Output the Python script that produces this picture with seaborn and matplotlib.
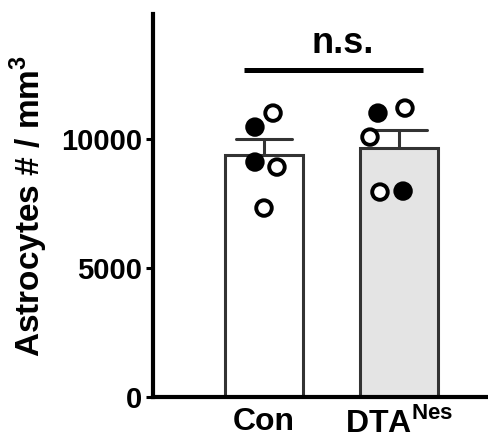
import numpy as np
import pandas as pd
import matplotlib
matplotlib.use("Agg")
import matplotlib.pyplot as plt
import seaborn as sns

# ===== Data =====
groups = ["Con", "DTA"]
con_vals = [10465, 11008, 9109, 8915, 7326]
dta_vals = [11008, 11202, 10078, 7946, 7984]
con_fill = ["filled", "open", "filled", "open", "open"]
dta_fill = ["filled", "open", "open", "open", "filled"]
# horizontal scatter of the dots around each bar centre
con_jitter = [-0.067, 0.067, -0.067, 0.096, 0.0]
dta_jitter = [-0.156, 0.044, -0.215, -0.141, 0.030]
tick_labels = ["Con", "DTA$^{\\bf Nes}$"]

df = pd.DataFrame({
    "group": ["Con"] * len(con_vals) + ["DTA"] * len(dta_vals),
    "value": con_vals + dta_vals,
    "fill": con_fill + dta_fill,
})
df["xpos"] = df["group"].map({g: i for i, g in enumerate(groups)}) + np.array(con_jitter + dta_jitter)

# ===== Style =====
sns.set_style("ticks")
plt.rcParams["font.family"] = ["Liberation Sans", "DejaVu Sans"]
plt.rcParams["font.weight"] = "bold"
plt.rcParams["mathtext.fontset"] = "custom"
plt.rcParams["mathtext.rm"] = "Liberation Sans:bold"
plt.rcParams["mathtext.bf"] = "Liberation Sans:bold"
for key in ["text.color", "axes.labelcolor", "xtick.color", "ytick.color"]:
    plt.rcParams[key] = "black"

fig = plt.figure(figsize=(4.88, 4.44), dpi=100)
ax = fig.add_axes([153 / 488, 1 - 397 / 444, 335 / 488, 383 / 444])

# ===== Bars + SEM =====
sns.barplot(
    data=df, x="group", y="value", order=groups, ax=ax,
    hue="group", palette={"Con": "white", "DTA": "#e4e4e4"}, legend=False,
    width=0.58, edgecolor="#333333", linewidth=2.2,
    errorbar="se", capsize=0.41,
    err_kws={"color": "#333333", "linewidth": 2.2, "zorder": 0.5},
)

# ===== Individual animals =====
sns.scatterplot(
    data=df, x="xpos", y="value", hue="fill", ax=ax,
    palette={"filled": "black", "open": "white"}, legend=False,
    s=125, edgecolor="black", linewidth=2.8, zorder=3,
)

# ===== Significance bar =====
ax.plot([-0.148, 1.178], [12674, 12674], color="black", lw=3.6, solid_capstyle="butt", clip_on=False)
ax.text(0.585, 13333, "n.s.", ha="center", va="baseline", fontsize=26, fontweight="bold")

# ===== Axes =====
ax.set_xlim(-0.822, 1.659)
ax.set_ylim(0, 14850)
ax.set_yticks([0, 5000, 10000])
ax.set_xticks(range(len(groups)))
ax.set_xticklabels(tick_labels, fontsize=23, fontweight="bold")
ax.tick_params(axis="y", labelsize=21, width=2.2, length=5, pad=3)
ax.tick_params(axis="x", length=0, pad=7)
ax.set_xlabel("")
ax.set_ylabel("Astrocytes # / mm$^{\\bf 3}$", fontsize=24, fontweight="bold", labelpad=8)
for lab in ax.get_yticklabels():
    lab.set_fontweight("bold")

sns.despine(ax=ax)
ax.spines["left"].set_linewidth(3)
ax.spines["bottom"].set_linewidth(3)
ax.spines["left"].set_color("black")
ax.spines["bottom"].set_color("black")

fig.savefig("out.png", dpi=100)
